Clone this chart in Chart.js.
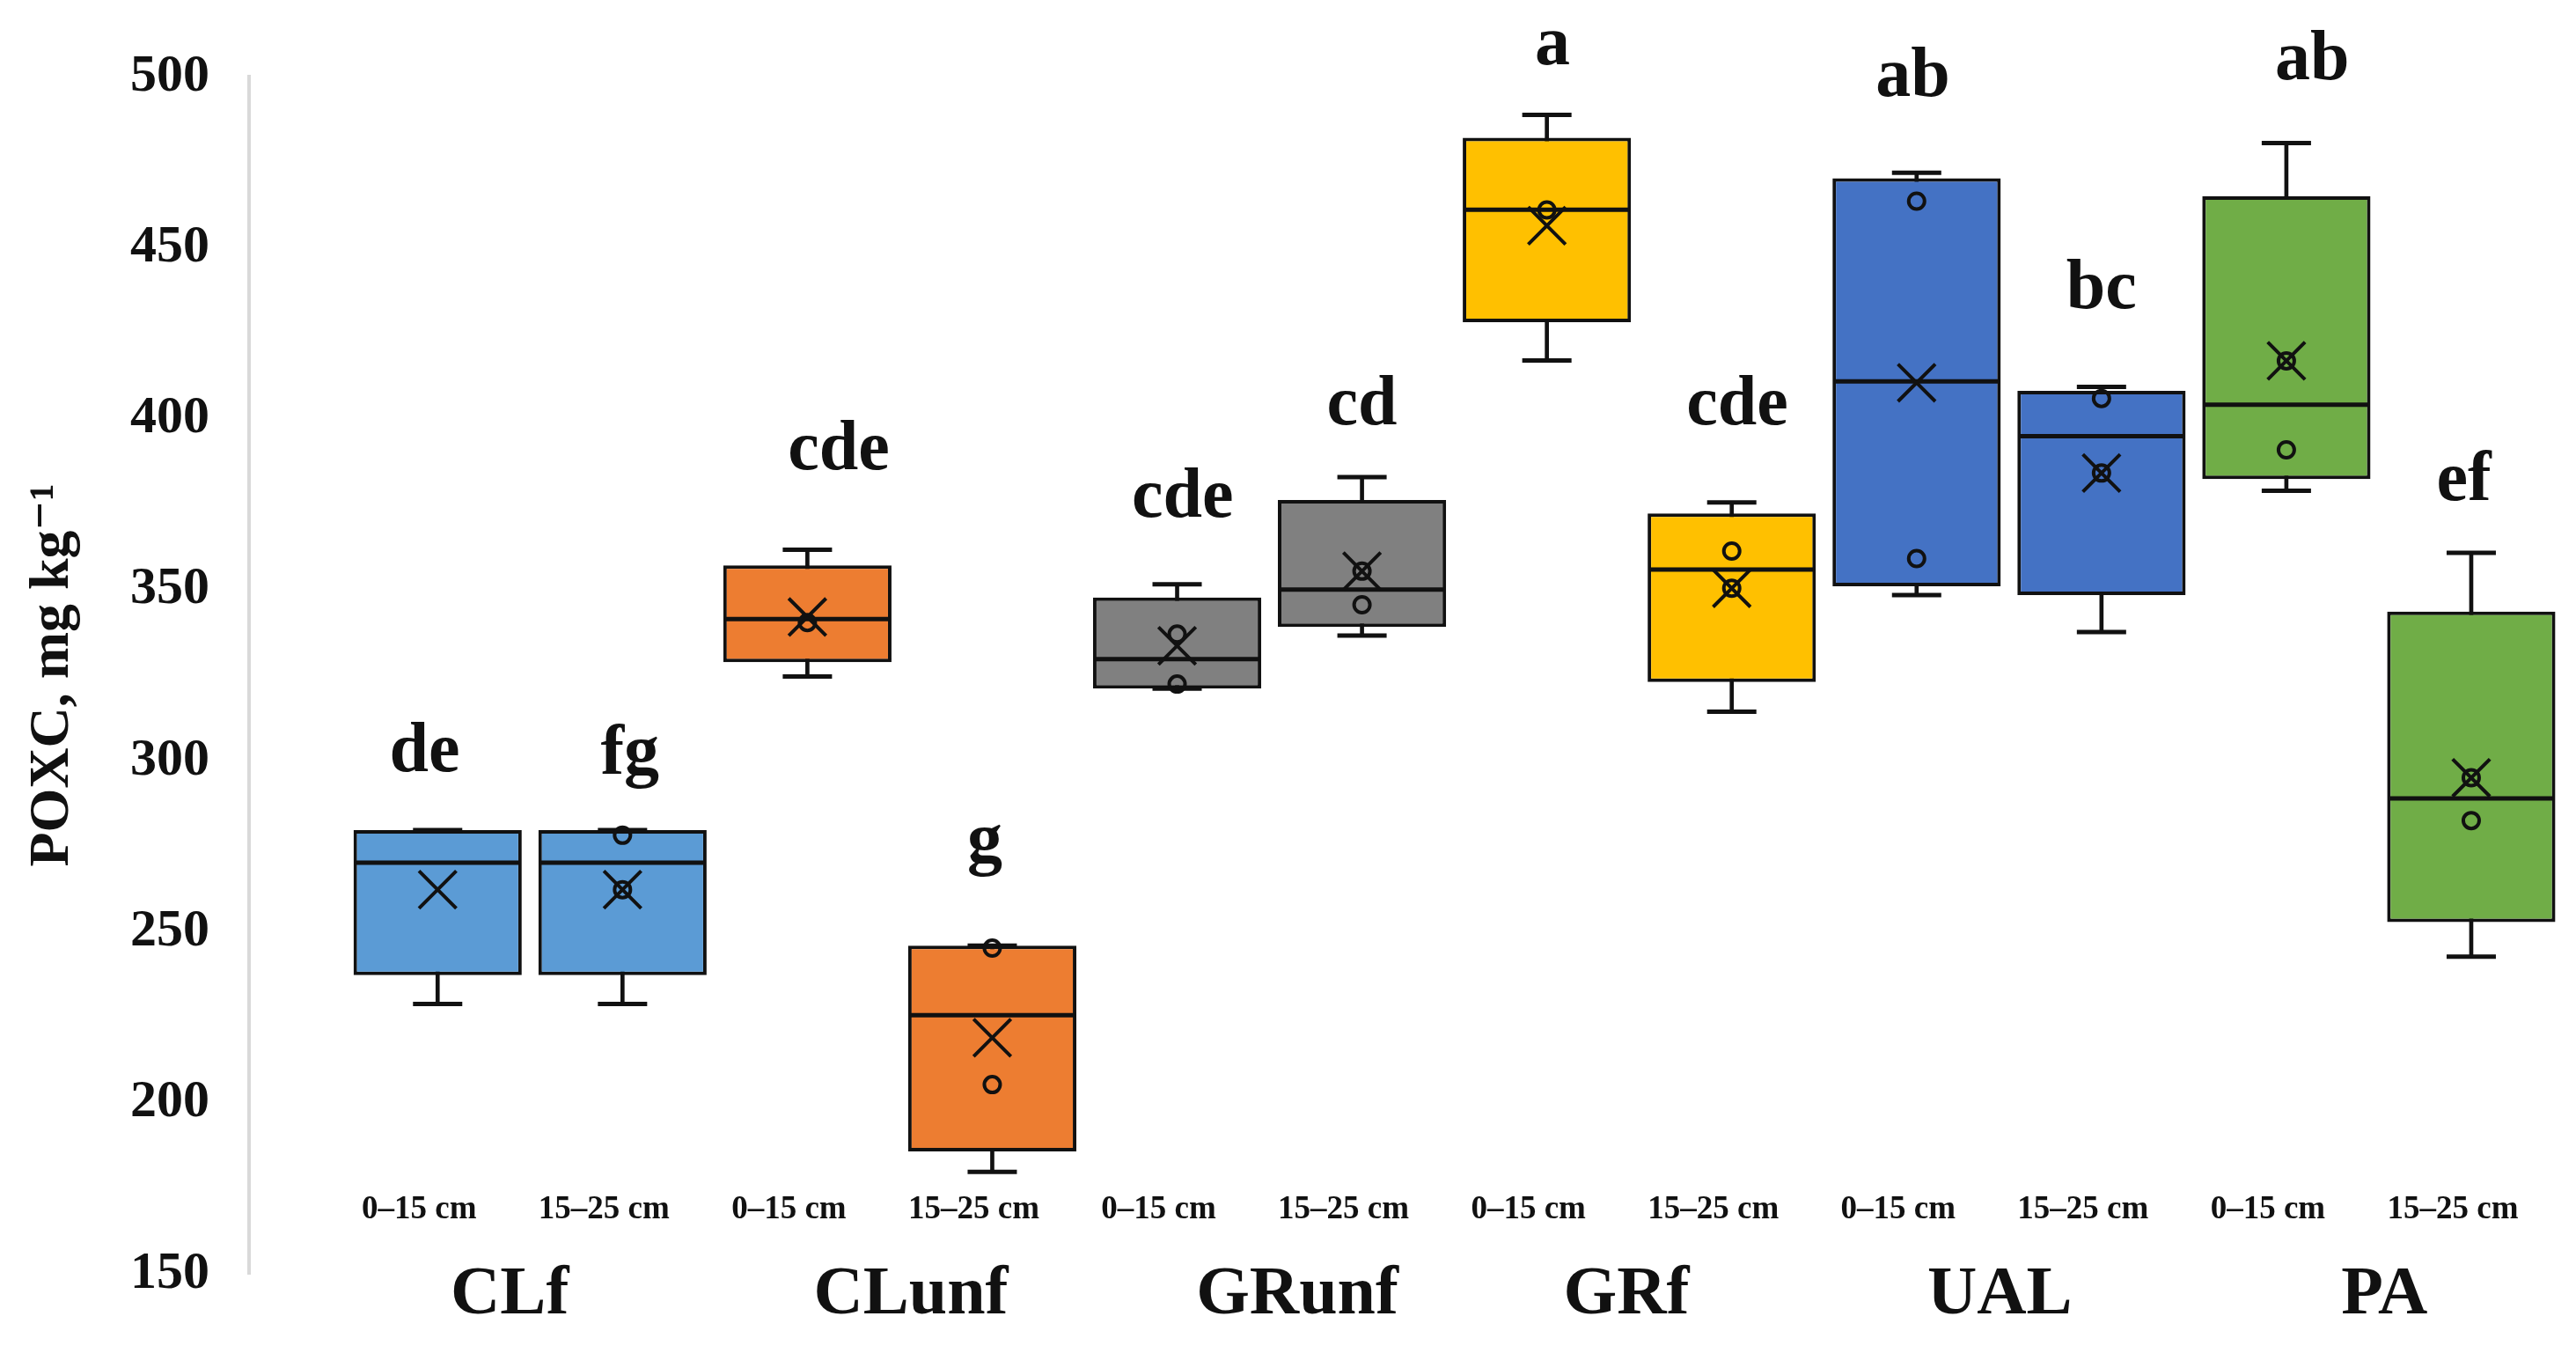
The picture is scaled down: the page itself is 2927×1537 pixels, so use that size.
<!DOCTYPE html>
<html>
<head>
<meta charset="utf-8">
<script src="https://cdn.jsdelivr.net/npm/chart.js@4.4.1/dist/chart.umd.min.js"></script>
<style>
  html, body { margin: 0; padding: 0; background: #fff; }
  #wrap { width: 2927px; height: 1537px; position: relative; }
</style>
</head>
<body>
<div id="wrap"><canvas id="poxcChart"></canvas></div>
<script>
// Groupes et profondeurs
const groups = ['CLf', 'CLunf', 'GRunf', 'GRf', 'UAL', 'PA'];
const depths = ['0\u201315 cm', '15\u201325 cm'];
const groupColors = ['#5B9BD5', '#ED7D31', '#808080', '#FFC000', '#4472C4', '#70AD47'];

// Valeurs des boites (12 boites : groupe x profondeur)
const whiskerMin = [228.9, 228.9, 324.6, 179.8, 321.1, 336.6, 417.0, 314.3, 348.4, 337.6, 378.9, 242.7];
const q1 =         [237.3, 237.3, 328.8, 185.8, 321.1, 339.1, 428.2, 323.0, 351.0, 348.4, 382.3, 252.8];
const median =     [270.2, 270.2, 341.4, 225.6, 329.7, 350.0, 461.1, 355.9, 410.9, 394.9, 404.1, 289.0];
const q3 =         [279.7, 279.7, 357.1, 245.9, 347.7, 376.2, 482.1, 372.3, 470.3, 408.1, 465.0, 343.6];
const whiskerMax = [279.7, 279.7, 361.7, 245.9, 351.6, 382.9, 488.8, 375.5, 471.9, 409.3, 480.6, 360.8];
const mean =       [262.3, 262.3, 342.0, 219.0, 333.6, 355.4, 456.4, 350.4, 410.5, 384.1, 416.9, 295.0];
const innerPoints = [
    [], [278.2, 262.3], [340.4], [245.2, 205.3], [337.0, 322.4], [355.4, 345.6],
    [461.0], [361.3, 350.4], [463.6, 359.1], [405.9, 384.1], [416.9, 390.9], [295.0, 282.5]
];

// Lettres de significativite
const letters = ['de', 'fg', 'cde', 'g', 'cde', 'cd', 'a', 'cde', 'ab', 'bc', 'ab', 'ef'];
const letterX = [-0.07, 1.04, 2.17, 2.96, 4.03, 5.0, 6.03, 7.03, 7.98, 9.0, 10.14, 10.96];
const letterY = [302.2, 301.6, 390.6, 275.7, 376.7, 403.6, 508.9, 403.6, 499.7, 437.7, 504.5, 381.5];
const groupLabelX = [0.39, 2.56, 4.65, 6.43, 8.45, 10.53];

// Axe Y
const yMin = 150, yMax = 500, yStep = 50;

const boxIdx = whiskerMin.map((_, i) => i);
const boxColors = boxIdx.map(i => groupColors[Math.floor(i / 2)]);

const serif = "'Liberation Serif', 'DejaVu Serif', serif";

// Textes (lettres, profondeurs, groupes) places avec les echelles
const labelsPlugin = {
    id: 'boxLabels',
    afterDraw(chart) {
        const ctx = chart.ctx;
        const xs = chart.scales.x, ys = chart.scales.y;
        ctx.save();
        ctx.fillStyle = '#111';
        ctx.textAlign = 'center';
        ctx.textBaseline = 'middle';

        ctx.font = 'bold 80px ' + serif;
        letters.forEach((t, i) => {
            ctx.fillText(t, xs.getPixelForValue(letterX[i]), ys.getPixelForValue(letterY[i]));
        });

        ctx.font = 'bold 37px ' + serif;
        boxIdx.forEach(i => {
            ctx.fillText(depths[i % 2], xs.getPixelForValue(i - 0.1), ys.getPixelForValue(168.6));
        });

        ctx.font = 'bold 78px ' + serif;
        groups.forEach((g, k) => {
            ctx.fillText(g, xs.getPixelForValue(groupLabelX[k]), ys.getPixelForValue(143.5));
        });
        ctx.restore();
    }
};

new Chart(document.getElementById('poxcChart'), {
    type: 'bar',
    data: {
        datasets: [
            {
                // moustaches (tige)
                type: 'bar',
                data: boxIdx.map(i => ({ x: i, y: [whiskerMin[i], whiskerMax[i]] })),
                backgroundColor: '#111',
                barThickness: 4,
                grouped: false,
                order: 3
            },
            {
                // boites Q1-Q3
                type: 'bar',
                data: boxIdx.map(i => ({ x: i, y: [q1[i], q3[i]] })),
                backgroundColor: boxColors,
                borderColor: '#111',
                borderWidth: 4,
                borderSkipped: false,
                categoryPercentage: 1,
                barPercentage: 0.91,
                grouped: false,
                order: 2
            },
            {
                // extremites des moustaches
                type: 'scatter',
                data: boxIdx.flatMap(i => [{ x: i, y: whiskerMin[i] }, { x: i, y: whiskerMax[i] }]),
                pointStyle: 'line',
                pointRadius: 28,
                borderColor: '#111',
                borderWidth: 5,
                order: 1
            },
            {
                // medianes
                type: 'scatter',
                data: boxIdx.map(i => ({ x: i, y: median[i] })),
                pointStyle: 'line',
                pointRadius: 93,
                borderColor: '#111',
                borderWidth: 5,
                order: 1
            },
            {
                // points interieurs
                type: 'scatter',
                data: boxIdx.flatMap(i => innerPoints[i].map(v => ({ x: i, y: v }))),
                pointStyle: 'circle',
                pointRadius: 9,
                backgroundColor: 'rgba(0,0,0,0)',
                borderColor: '#111',
                borderWidth: 4,
                order: 0
            },
            {
                // moyennes
                type: 'scatter',
                data: boxIdx.map(i => ({ x: i, y: mean[i] })),
                pointStyle: 'crossRot',
                pointRadius: 30,
                borderColor: '#111',
                borderWidth: 4,
                order: 0
            }
        ]
    },
    options: {
        responsive: true,
        maintainAspectRatio: false,
        animation: false,
        events: [],
        layout: { autoPadding: false, padding: { top: 87, bottom: 90, left: 0, right: 14 } },
        plugins: {
            legend: { display: false },
            tooltip: { enabled: false }
        },
        scales: {
            x: {
                type: 'linear',
                display: false,
                offset: false,
                min: -1.02,
                max: 11.5
            },
            y: {
                type: 'linear',
                min: yMin,
                max: yMax,
                afterFit: s => { s.width = 283; },
                ticks: {
                    stepSize: yStep,
                    padding: 45,
                    color: '#111',
                    font: { family: serif, size: 60, weight: 'bold' }
                },
                grid: { display: false, drawTicks: false },
                border: { display: true, color: '#d9d9d9', width: 4 },
                title: {
                    display: true,
                    text: 'POXC, mg kg\u207B\u00B9',
                    color: '#111',
                    padding: { top: 22, bottom: 0 },
                    font: { family: serif, size: 64, weight: 'bold' }
                }
            }
        }
    },
    plugins: [labelsPlugin]
});
</script>
</body>
</html>
